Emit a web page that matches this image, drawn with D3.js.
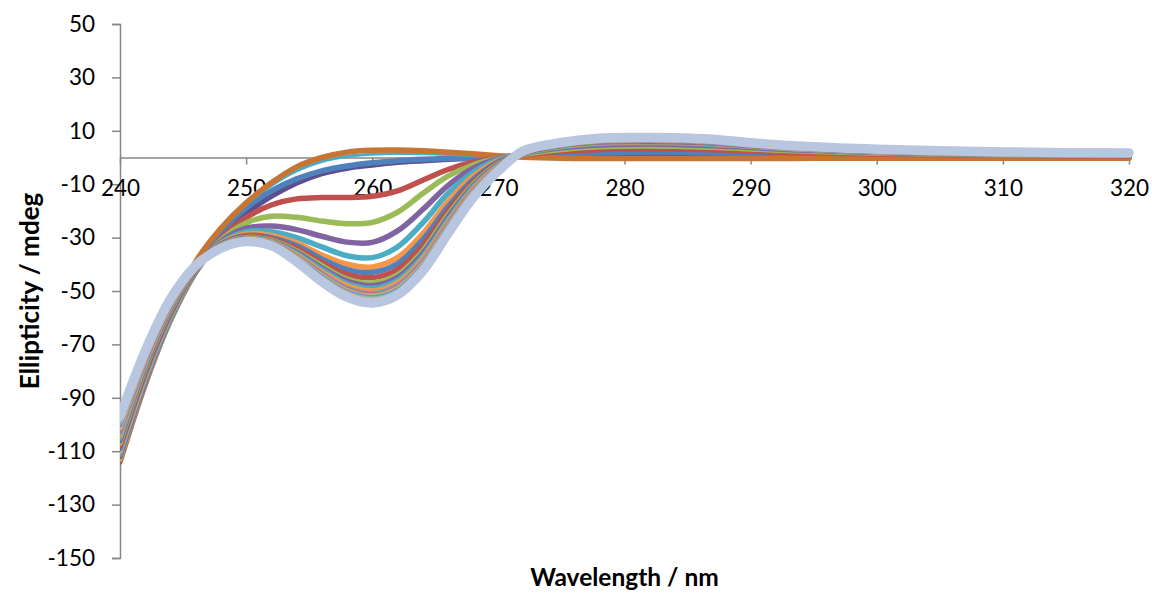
<!DOCTYPE html>
<html>
<head>
<meta charset="utf-8">
<script src="https://cdn.jsdelivr.net/npm/d3@7"></script>
<style>
  body { margin: 0; background: #fff; }
  svg { display: block; font-family: Lato, "Open Sans", sans-serif; }
</style>
</head>
<body>
<div id="chart"></div>
<script>
// wavelength grid (nm) shared by every spectrum
var wavelengths = [240,242,244,246,248,250,252,254,256,258,260,262,264,266,268,270,272,275,278,281,284,287,290,295,300,305,310,315,320];

var xTicks = [240,250,260,270,280,290,300,310,320];
var yTicks = [50,30,10,-10,-30,-50,-70,-90,-110,-130,-150];

// spectra, in drawing order (mdeg)
var navyTop   = [-113,-84,-60,-41.5,-29.5,-21,-14.5,-9.5,-6,-4,-2.8,-1.8,-1.2,-0.7,-0.3,0,0.4,0.8,1.0,1.1,1.1,1.0,0.8,0.6,0.4,0.3,0.2,0.2,0.1];
var blueTop   = [-112,-83,-59,-40.5,-28,-19,-12.5,-8,-5,-3.2,-2,-1.2,-0.7,-0.4,-0.2,0,0.6,1.3,1.8,2,2,1.8,1.5,1.1,0.8,0.6,0.5,0.4,0.3];
var tealTop   = [-112,-83,-58.5,-39.5,-27,-17.7,-10.5,-5,-1.5,0.4,1.2,1.5,1.4,1.1,0.7,0.4,0.2,0.1,0,0,0,0,0,0,0,0,0,0,0];
var orangeTop = [-113,-83,-58,-39,-26.5,-17,-9.5,-3.5,0,2,2.7,2.8,2.5,2,1.4,0.7,0.1,-0.3,-0.4,-0.4,-0.4,-0.4,-0.4,-0.3,-0.3,-0.3,-0.3,-0.3,-0.3];
var red1    = [-114,-85,-61,-43,-30.5,-22.5,-17.8,-15.5,-15,-15,-14.5,-12.5,-8.5,-4.5,-1.8,-0.2,1,2.3,3,3.3,3.2,2.9,2.4,1.7,1.3,1.0,0.8,0.7,0.6];
var green1  = [-113,-84.5,-61,-43,-31,-24.5,-22,-22.4,-23.8,-24.8,-24.3,-20.5,-13.5,-7,-2.8,-0.3,1.2,3,4,4.3,4.2,3.8,3.2,2.2,1.6,1.3,1.0,0.9,0.8];
var purple1 = [-112,-84,-60.5,-42.8,-31.5,-26.5,-25.7,-27,-29.5,-31.7,-31.8,-27.5,-19.5,-10.5,-4,-0.4,1.4,3.6,4.7,5,4.9,4.4,3.7,2.6,1.9,1.5,1.2,1.0,0.9];
var aqua1   = [-111,-83,-60,-42.5,-32,-27.8,-27.8,-30,-33.5,-36.8,-37.5,-33.5,-24.5,-13.5,-5.5,-0.8,1.6,4,5.2,5.5,5.4,4.9,4.1,2.9,2.1,1.7,1.3,1.1,1.0];
var orange1 = [-110,-82,-59.3,-42.3,-32.3,-28.6,-29.2,-32,-36.5,-40,-41,-37.5,-28.5,-16.5,-7,-1.2,1.7,4.3,5.5,5.8,5.7,5.2,4.3,3.0,2.2,1.8,1.4,1.2,1.1];
var blue2   = [-109,-81,-58.7,-42.2,-32.6,-29.2,-30,-33,-38,-42,-43,-39.8,-30.8,-18.5,-8.3,-1.6,1.8,4.5,5.8,6,5.9,5.4,4.5,3.2,2.3,1.9,1.5,1.3,1.1];
var red2    = [-108,-80,-58,-42,-32.8,-29.6,-30.5,-34,-39.3,-43.8,-45,-42,-33,-20,-9.2,-2,1.9,4.7,6,6.2,6.1,5.6,4.6,3.3,2.4,1.9,1.6,1.3,1.2];
var green2  = [-107,-79,-57.3,-41.8,-33,-30,-31,-35,-40.5,-45.5,-47,-44,-35,-21.5,-10,-2.4,2,4.8,6.1,6.4,6.3,5.7,4.7,3.4,2.5,2,1.6,1.4,1.2];
var purple2 = [-106,-78.3,-56.7,-41.6,-33.2,-30.2,-31.3,-35.5,-41.3,-46.3,-48,-45,-36,-22.5,-10.6,-2.7,2.1,4.9,6.2,6.5,6.4,5.8,4.8,3.4,2.5,2,1.7,1.4,1.3];
var aqua2   = [-105,-77.6,-56.2,-41.5,-33.3,-30.4,-31.5,-36,-42,-47.2,-49,-46,-37,-23.5,-11.2,-3,2.2,5,6.3,6.6,6.5,5.9,4.9,3.5,2.6,2.1,1.7,1.5,1.3];
var orange2 = [-104,-77,-55.7,-41.4,-33.4,-30.6,-31.7,-36.5,-42.8,-48,-50,-47,-38,-24.3,-11.8,-3.3,2.3,5.1,6.4,6.7,6.6,6,5,3.6,2.7,2.1,1.8,1.5,1.4];
var blue3   = [-103,-76.3,-55.2,-41.3,-33.5,-30.8,-32,-37,-43.5,-49,-51,-48,-39,-25,-12.4,-3.6,2.4,5.2,6.5,6.8,6.7,6.1,5.1,3.6,2.7,2.2,1.8,1.6,1.4];
var red3    = [-102,-75.6,-54.8,-41.2,-33.6,-31,-32.2,-37.3,-44,-49.5,-51.5,-48.6,-39.6,-25.6,-12.8,-3.8,2.4,5.2,6.6,6.9,6.8,6.2,5.1,3.7,2.8,2.2,1.8,1.6,1.4];
var green3  = [-101,-75,-54.4,-41.1,-33.7,-31.1,-32.4,-37.6,-44.4,-50,-52,-49.2,-40.2,-26.2,-13.2,-4,2.4,5.3,6.7,7,6.9,6.3,5.2,3.7,2.8,2.3,1.9,1.6,1.5];
var purple3 = [-100,-74.4,-54,-41,-33.8,-31.2,-32.6,-37.9,-44.8,-50.4,-52.5,-49.7,-40.7,-26.7,-13.6,-4.2,2.5,5.3,6.8,7.1,7,6.4,5.2,3.8,2.9,2.3,1.9,1.7,1.5];
var aqua3   = [-99,-73.8,-53.7,-40.9,-33.9,-31.3,-32.8,-38.2,-45.2,-50.9,-53,-50.2,-41.2,-27.2,-14,-4.4,2.5,5.4,6.9,7.2,7.1,6.5,5.3,3.8,2.9,2.4,2,1.7,1.5];
var orange3 = [-98,-73.2,-53.3,-40.8,-34,-31.4,-33,-38.5,-45.6,-51.3,-53.5,-50.7,-41.7,-27.7,-14.4,-4.6,2.6,5.4,7,7.3,7.2,6.6,5.4,3.9,3,2.4,2,1.7,1.6];
var lastRun = [-97,-72.5,-53,-40.5,-34,-31.5,-33,-39,-46.5,-52.3,-54.5,-51.5,-42.5,-28.5,-15,-5,2.5,5.6,7.2,7.5,7.4,6.8,5.5,4,3.1,2.5,2.1,1.8,1.7];

var spectra = [navyTop, blueTop, tealTop, orangeTop, red1, green1, purple1, aqua1, orange1,
               blue2, red2, green2, purple2, aqua2, orange2,
               blue3, red3, green3, purple3, aqua3, orange3, lastRun];
var colors = ["#5B4F8F","#4F81BD","#4BACC6","#C87533","#C0504D","#9BBB59","#8064A2","#4BACC6","#F79646",
              "#4F81BD","#C0504D","#9BBB59","#8064A2","#4BACC6","#F79646",
              "#729ACA","#CD7371","#AFC97A","#9983B5","#6FBDD1","#F9AB6B","#B8C6E0"];

var W = 1152, H = 593;
var svg = d3.select("#chart").append("svg").attr("width", W).attr("height", H);

var x = d3.scaleLinear().domain([240, 320]).range([120, 1129]);
var y = d3.scaleLinear().domain([-150, 50]).range([558, 24]);

var axisColor = "#868686";
var plain = function(d) { return String(d); };   // keep hyphen minus like Excel

// y axis
var yAxis = d3.axisLeft(y).tickValues(yTicks).tickFormat(plain).tickSize(8).tickPadding(17);
var gy = svg.append("g").attr("transform", "translate(" + x(240) + ",0)").call(yAxis);
gy.select(".domain").attr("stroke", axisColor).attr("stroke-width", 1.5);
gy.selectAll(".tick line").attr("stroke", axisColor).attr("stroke-width", 1.5);
gy.selectAll(".tick text").attr("font-size", 22.5).attr("fill", "#000")
  .style("font-family", "Lato, 'Open Sans', sans-serif");

// x axis sits at zero
var xAxis = d3.axisBottom(x).tickValues(xTicks).tickFormat(plain).tickSize(7).tickPadding(16).tickSizeOuter(0);
var gx = svg.append("g").attr("transform", "translate(0," + y(0) + ")").call(xAxis);
gx.select(".domain").attr("stroke", axisColor).attr("stroke-width", 1.5);
gx.selectAll(".tick line").attr("stroke", axisColor).attr("stroke-width", 1.5);
gx.selectAll(".tick text").attr("font-size", 22.5).attr("fill", "#000")
  .style("font-family", "Lato, 'Open Sans', sans-serif");

// plot area clip, lines stop at the value axis
svg.append("clipPath").attr("id", "plotclip")
  .append("rect").attr("x", x(240)).attr("y", 0).attr("width", W - x(240)).attr("height", H);

var line = d3.line()
  .x(function(d) { return x(d[0]); })
  .y(function(d) { return y(d[1]); })
  .curve(d3.curveCatmullRom.alpha(0.5));

svg.append("g").attr("clip-path", "url(#plotclip)")
  .selectAll("path")
  .data(spectra)
  .enter().append("path")
  .attr("d", function(s) { return line(wavelengths.map(function(w, i) { return [w, s[i]]; })); })
  .attr("fill", "none")
  .attr("stroke", function(s, i) { return colors[i]; })
  .attr("stroke-width", function(s, i) { return i === spectra.length - 1 ? 9.5 : (i === 2 ? 3 : 5.5); })
  .attr("stroke-linecap", "round")
  .attr("stroke-linejoin", "round");

// axis titles
svg.append("text")
  .attr("x", (x(240) + x(320)) / 2).attr("y", 586)
  .attr("text-anchor", "middle")
  .attr("font-size", 24.5).attr("font-weight", "bold")
  .text("Wavelength / nm");

svg.append("text")
  .attr("transform", "translate(39," + (y(50) + y(-150)) / 2 + ") rotate(-90)")
  .attr("text-anchor", "middle")
  .attr("font-size", 26).attr("font-weight", "bold")
  .text("Ellipticity / mdeg");
</script>
</body>
</html>
